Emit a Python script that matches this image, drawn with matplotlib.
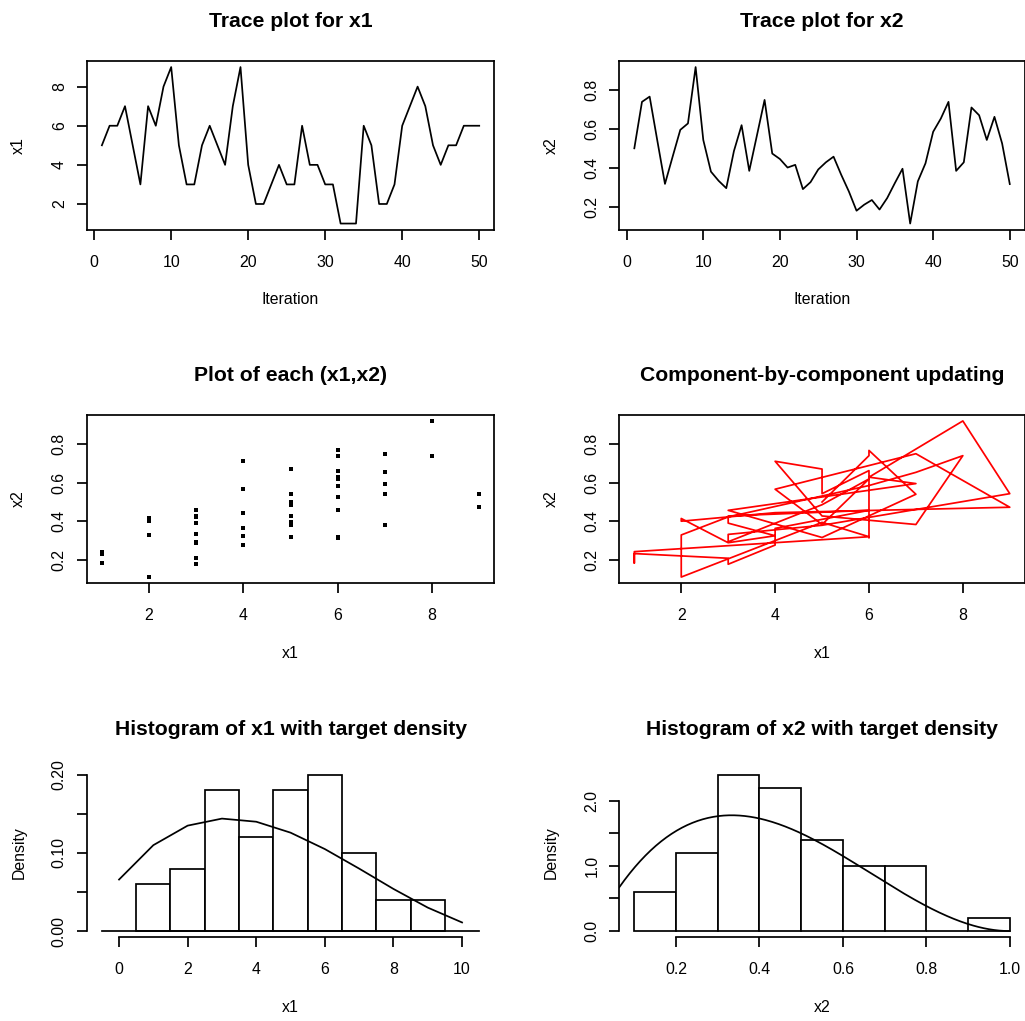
import numpy as np
import matplotlib
matplotlib.use("Agg")
import matplotlib.pyplot as plt
from math import gamma

plt.rcParams['font.family'] = ['Liberation Sans', 'DejaVu Sans']

# ---------------- data ----------------
iteration = list(range(1, 51))
x1 = [5, 6, 6, 7, 5, 3, 7, 6, 8, 9,
      5, 3, 3, 5, 6, 5, 4, 7, 9, 4,
      2, 2, 3, 4, 3, 3, 6, 4, 4, 3,
      3, 1, 1, 1, 6, 5, 2, 2, 3, 6,
      7, 8, 7, 5, 4, 5, 5, 6, 6, 6]
x2 = [0.500, 0.739, 0.766, 0.540, 0.317, 0.457, 0.595, 0.628, 0.918, 0.543,
      0.380, 0.333, 0.295, 0.486, 0.619, 0.384, 0.566, 0.749, 0.473, 0.445,
      0.401, 0.415, 0.290, 0.326, 0.391, 0.428, 0.457, 0.364, 0.278, 0.179,
      0.210, 0.234, 0.185, 0.244, 0.321, 0.395, 0.113, 0.330, 0.423, 0.585,
      0.653, 0.739, 0.384, 0.428, 0.710, 0.670, 0.543, 0.662, 0.525, 0.316]

# histogram of x1 (bins centred on integers 1..9)
x1_bin_left = [0.5, 1.5, 2.5, 3.5, 4.5, 5.5, 6.5, 7.5, 8.5]
x1_bin_density = [0.06, 0.08, 0.18, 0.12, 0.18, 0.20, 0.10, 0.04, 0.04]
# target (beta-binomial) density of x1 at 0..10
x1_target_k = list(range(0, 11))
x1_target_density = [0.0659, 0.1099, 0.1349, 0.1439, 0.1399, 0.1259,
                     0.1049, 0.0799, 0.0539, 0.0300, 0.0110]

# histogram of x2
x2_bin_left = [0.1, 0.2, 0.3, 0.4, 0.5, 0.6, 0.7, 0.8, 0.9]
x2_bin_density = [0.6, 1.2, 2.4, 2.2, 1.4, 1.0, 1.0, 0.0, 0.2]
# target beta density parameters for x2
beta_a, beta_b = 2, 3

# ---------------- layout helpers ----------------
W, H = 1025, 1021
fig = plt.figure(figsize=(W / 100, H / 100), dpi=100)

cols = [(86.8, 494.3), (619.3, 1024.8)]
rows = [(60.8, 229.8), (414.7, 583.3), (768.5, 937.3)]

PX = 72.0 / 100.0  # points per pixel
LW = 1.25
TICK_FS = 11.4
TITLE_FS = 15.2


def add_ax(c, r):
    x0, x1_ = cols[c]
    y0, y1_ = rows[r]
    return fig.add_axes([x0 / W, 1 - y1_ / H, (x1_ - x0) / W, (y1_ - y0) / H])


def style(ax, box=True):
    for s in ax.spines.values():
        s.set_linewidth(LW)
        s.set_visible(box)
    ax.tick_params(axis='both', direction='out', length=10 * PX, width=LW,
                   labelsize=TICK_FS, colors='black')
    ax.tick_params(axis='x', pad=15 * PX)
    ax.tick_params(axis='y', pad=13 * PX)


def rotate_ylabels(ax):
    for lab in ax.get_yticklabels():
        lab.set_rotation(90)
        lab.set_rotation_mode('anchor')
        lab.set_ha('center')
        lab.set_va('baseline')


def texts(c, r, title, xlabel, ylabel):
    x0, x1_ = cols[c]
    y0, y1_ = rows[r]
    xc = (x0 + x1_) / 2
    fig.text(xc / W, 1 - (y0 - 33.8) / H, title, ha='center', va='baseline',
             fontsize=TITLE_FS, fontweight='bold')
    fig.text(xc / W, 1 - (y1_ + 74.5) / H, xlabel, ha='center', va='baseline',
             fontsize=TICK_FS)
    fig.text((x0 - 63.5) / W, 1 - ((y0 + y1_) / 2) / H, ylabel, ha='center',
             va='baseline', rotation=90, rotation_mode='anchor', fontsize=TICK_FS)


def padded(lo, hi):
    d = (hi - lo) * 0.04
    return lo - d, hi + d


# ---------------- row 1: trace plots ----------------
ax = add_ax(0, 0)
ax.plot(iteration, x1, color='black', lw=LW)
ax.set_xlim(*padded(1, 50))
ax.set_ylim(*padded(min(x1), max(x1)))
ax.set_xticks([0, 10, 20, 30, 40, 50])
ax.set_yticks([2, 4, 6, 8])
style(ax)
rotate_ylabels(ax)
texts(0, 0, 'Trace plot for x1', 'Iteration', 'x1')

ax = add_ax(1, 0)
ax.plot(iteration, x2, color='black', lw=LW)
ax.set_xlim(*padded(1, 50))
ax.set_ylim(*padded(min(x2), max(x2)))
ax.set_xticks([0, 10, 20, 30, 40, 50])
ax.set_yticks([0.2, 0.4, 0.6, 0.8])
ax.set_yticklabels(['0.2', '0.4', '0.6', '0.8'])
style(ax)
rotate_ylabels(ax)
texts(1, 0, 'Trace plot for x2', 'Iteration', 'x2')

# ---------------- row 2 ----------------
ax = add_ax(0, 1)
ax.plot(x1, x2, linestyle='none', marker='s', ms=2.3, mew=0, color='black')
ax.set_xlim(*padded(min(x1), max(x1)))
ax.set_ylim(*padded(min(x2), max(x2)))
ax.set_xticks([2, 4, 6, 8])
ax.set_yticks([0.2, 0.4, 0.6, 0.8])
ax.set_yticklabels(['0.2', '0.4', '0.6', '0.8'])
style(ax)
rotate_ylabels(ax)
texts(0, 1, 'Plot of each (x1,x2)', 'x1', 'x2')

ax = add_ax(1, 1)
ax.plot(x1, x2, color='red', lw=LW)
ax.set_xlim(*padded(min(x1), max(x1)))
ax.set_ylim(*padded(min(x2), max(x2)))
ax.set_xticks([2, 4, 6, 8])
ax.set_yticks([0.2, 0.4, 0.6, 0.8])
ax.set_yticklabels(['0.2', '0.4', '0.6', '0.8'])
style(ax)
rotate_ylabels(ax)
texts(1, 1, 'Component-by-component updating', 'x1', 'x2')

# ---------------- row 3: histograms ----------------
ax = add_ax(0, 2)
ax.bar(x1_bin_left, x1_bin_density, width=1.0, align='edge', color='white',
       edgecolor='black', linewidth=LW)
ax.plot([-0.5, 10.5], [0, 0], color='black', lw=LW)
ax.plot(x1_target_k, x1_target_density, color='black', lw=LW)
ax.set_xlim(*padded(-0.5, 10.5))
ax.set_ylim(*padded(0, 0.2))
ax.set_xticks([0, 2, 4, 6, 8, 10])
ax.set_yticks([0, 0.05, 0.10, 0.15, 0.20])
ax.set_yticklabels(['0.00', '', '0.10', '', '0.20'])
style(ax, box=False)
ax.spines['left'].set_visible(True)
ax.spines['bottom'].set_visible(True)
ax.spines['left'].set_bounds(0, 0.2)
ax.spines['bottom'].set_bounds(0, 10)
rotate_ylabels(ax)
texts(0, 2, 'Histogram of x1 with target density', 'x1', 'Density')

ax = add_ax(1, 2)
ax.bar(x2_bin_left, x2_bin_density, width=0.1, align='edge', color='white',
       edgecolor='black', linewidth=LW)
xl = padded(0.1, 1.0)
xs = np.linspace(xl[0], 1.0, 300)
cst = gamma(beta_a + beta_b) / (gamma(beta_a) * gamma(beta_b))
ax.plot(xs, cst * xs ** (beta_a - 1) * (1 - xs) ** (beta_b - 1), color='black', lw=LW)
ax.set_xlim(*xl)
ax.set_ylim(*padded(0, max(x2_bin_density)))
ax.set_xticks([0.2, 0.4, 0.6, 0.8, 1.0])
ax.set_xticklabels(['0.2', '0.4', '0.6', '0.8', '1.0'])
ax.set_yticks([0, 0.5, 1.0, 1.5, 2.0])
ax.set_yticklabels(['0.0', '', '1.0', '', '2.0'])
style(ax, box=False)
ax.spines['left'].set_visible(True)
ax.spines['bottom'].set_visible(True)
ax.spines['left'].set_bounds(0, 2.0)
ax.spines['bottom'].set_bounds(0.2, 1.0)
rotate_ylabels(ax)
texts(1, 2, 'Histogram of x2 with target density', 'x2', 'Density')

fig.savefig('out.png', dpi=100)
